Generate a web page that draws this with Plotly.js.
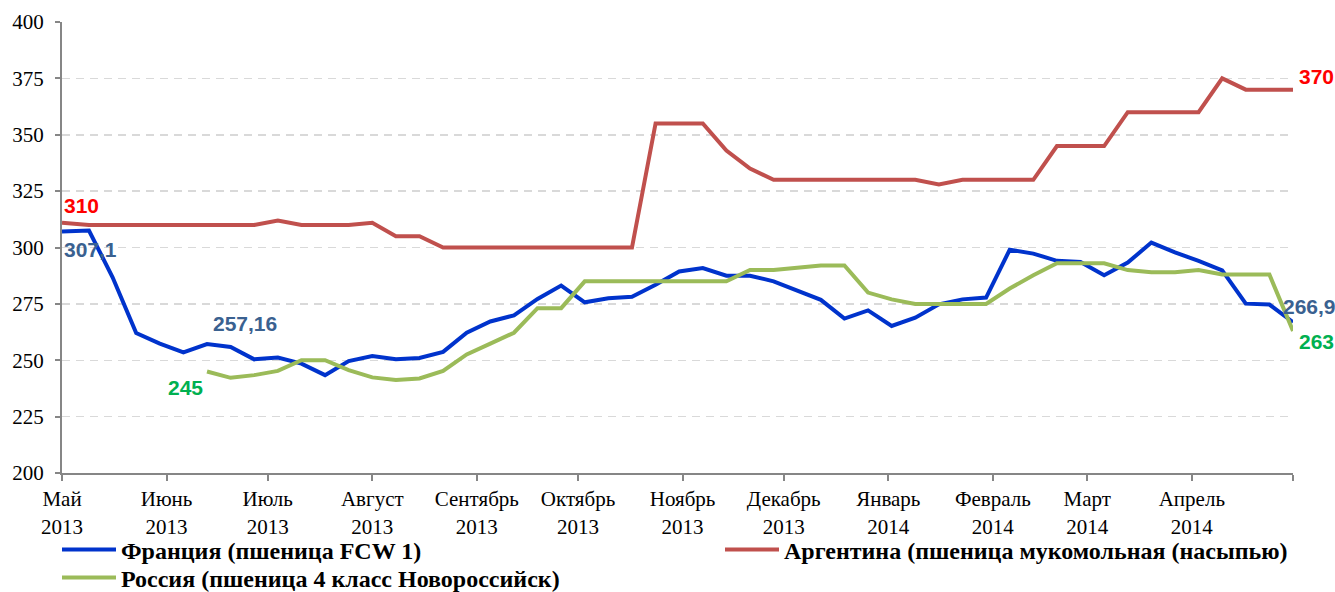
<!DOCTYPE html>
<html>
<head>
<meta charset="utf-8">
<script src="https://cdn.plot.ly/plotly-3.0.1.min.js"></script>
<style>html,body{margin:0;padding:0;background:#fff;}</style>
</head>
<body>
<div id="chart" style="width:1335px;height:592px;"></div>
<script>
// Weekly observation dates
const dates = [
  '2013-05-01','2013-05-09','2013-05-16','2013-05-23','2013-05-30',
  '2013-06-06','2013-06-13','2013-06-20','2013-06-27',
  '2013-07-04','2013-07-11','2013-07-18','2013-07-25',
  '2013-08-01','2013-08-08','2013-08-15','2013-08-22','2013-08-29',
  '2013-09-05','2013-09-12','2013-09-19','2013-09-26',
  '2013-10-03','2013-10-10','2013-10-17','2013-10-24','2013-10-31',
  '2013-11-07','2013-11-14','2013-11-21','2013-11-28',
  '2013-12-05','2013-12-12','2013-12-19','2013-12-26',
  '2014-01-02','2014-01-09','2014-01-16','2014-01-23','2014-01-30',
  '2014-02-06','2014-02-13','2014-02-20','2014-02-27',
  '2014-03-06','2014-03-13','2014-03-20','2014-03-27',
  '2014-04-03','2014-04-10','2014-04-17','2014-04-24','2014-05-01'
];

// Франция (пшеница FCW 1)
const france = [
  307.1, 307.5, 286.8, 262.1, 257.4, 253.5, 257.16, 255.9, 250.4,
  251.2, 248.5, 243.4, 249.6, 251.9, 250.4, 251.0, 253.7, 262.2,
  267.2, 269.9, 277.2, 283.1, 275.7, 277.5, 278.2, 283.5, 289.4,
  290.9, 287.5, 287.5, 285.0, 280.9, 276.8, 268.5, 272.1, 265.2,
  268.9, 274.8, 277.0, 277.8, 299.0, 297.3, 294.1, 293.6, 287.7,
  293.3, 302.2, 297.8, 294.1, 289.9, 275.1, 274.7, 266.9
];

// Аргентина (пшеница мукомольная (насыпью)
const argentina = [
  311, 310, 310, 310, 310, 310, 310, 310, 310,
  312, 310, 310, 310, 311, 305, 305, 300, 300,
  300, 300, 300, 300, 300, 300, 300, 355, 355,
  355, 343, 335, 330, 330, 330, 330, 330, 330,
  330, 328, 330, 330, 330, 330, 345, 345, 345,
  360, 360, 360, 360, 375, 370, 370, 370
];

// Россия (пшеница 4 класс Новороссийск)
const russia = [
  null, null, null, null, null, null, 245, 242.2, 243.4,
  245.3, 250, 250, 245.6, 242.4, 241.2, 241.9, 245.3, 252.6,
  257.4, 262.2, 273.1, 273.1, 285, 285, 285, 285, 285,
  285, 285, 290, 290, 291, 292, 292, 280, 277,
  275, 275, 275, 275, 281.8, 287.7, 293, 293, 293,
  290, 289, 289, 290, 288, 288, 288, 263
];

// Data labels shown on the chart (as printed in the source)
const labelArgStart = 310;

const seriesNames = [
  'Франция (пшеница FCW 1)',
  'Аргентина (пшеница мукомольная (насыпью)',
  'Россия (пшеница 4 класс Новороссийск)'
];

const monthTickVals = [
  '2013-05-01','2013-06-01','2013-07-01','2013-08-01','2013-09-01','2013-10-01',
  '2013-11-01','2013-12-01','2014-01-01','2014-02-01','2014-03-01','2014-04-01','2014-05-01'
];
const monthTickText = [
  'Май<br>2013','Июнь<br>2013','Июль<br>2013','Август<br>2013','Сентябрь<br>2013','Октябрь<br>2013',
  'Ноябрь<br>2013','Декабрь<br>2013','Январь<br>2014','Февраль<br>2014','Март<br>2014','Апрель<br>2014',''
];

const colFrance = '#0033CC', colArg = '#C0504D', colRus = '#9BBB59';
const last = dates.length - 1;
const fmt = v => String(v).replace('.', ',');
const serifFont = '"Liberation Serif", "Times New Roman", serif';
const labelFont = (c) => ({family: '"Liberation Sans", Arial, sans-serif', size: 21, color: c, weight: 'bold'});

const traces = [
  {x: dates, y: france, name: '<b>' + seriesNames[0] + '</b>', type: 'scatter', mode: 'lines',
   line: {color: colFrance, width: 4}, legend: 'legend'},
  {x: dates, y: argentina, name: '<b>' + seriesNames[1] + '</b>', type: 'scatter', mode: 'lines',
   line: {color: colArg, width: 4}, legend: 'legend2'},
  {x: dates, y: russia, name: '<b>' + seriesNames[2] + '</b>', type: 'scatter', mode: 'lines',
   line: {color: colRus, width: 4}, connectgaps: false, legend: 'legend3'}
];

const annotations = [
  {x: dates[0], y: argentina[0], text: '<b>' + fmt(labelArgStart) + '</b>', xanchor: 'left', yanchor: 'middle', yshift: 17, font: labelFont('#FF0000')},
  {x: dates[0], y: france[0], text: '<b>' + fmt(france[0]) + '</b>', xanchor: 'left', yanchor: 'middle', yshift: -18, font: labelFont('#3A6190')},
  {x: dates[6], y: france[6], text: '<b>' + fmt(france[6]) + '</b>', xanchor: 'center', yanchor: 'middle', xshift: 38, yshift: 21, font: labelFont('#3A6190')},
  {x: dates[6], y: russia[6], text: '<b>' + fmt(russia[6]) + '</b>', xanchor: 'right', yanchor: 'middle', xshift: -2, yshift: -16, font: labelFont('#00B050')},
  {x: dates[last], y: argentina[last], text: '<b>' + fmt(argentina[last]) + '</b>', xanchor: 'left', yanchor: 'middle', xshift: 4, yshift: 13, font: labelFont('#FF0000')},
  {x: dates[last], y: france[last], text: '<b>' + fmt(france[last]) + '</b>', xanchor: 'center', yanchor: 'middle', xshift: 16, yshift: 16, font: labelFont('#3A6190')},
  {x: dates[last], y: russia[last], text: '<b>' + fmt(russia[last]) + '</b>', xanchor: 'left', yanchor: 'middle', xshift: 4, yshift: -11, font: labelFont('#00B050')}
].map(a => Object.assign({xref: 'x', yref: 'y', showarrow: false}, a));

const legendFont = {family: serifFont, size: 24, color: '#000', weight: 'bold'};
const legendBase = {
  orientation: 'h', xref: 'container', yref: 'container', xanchor: 'left', yanchor: 'middle',
  font: legendFont, itemwidth: 54, bgcolor: 'rgba(0,0,0,0)', borderwidth: 0
};

const layout = {
  width: 1335, height: 592,
  font: {family: serifFont, color: '#000'},
  margin: {l: 62, r: 42, t: 22, b: 119, pad: 0, autoexpand: false},
  paper_bgcolor: '#fff', plot_bgcolor: '#fff',
  showlegend: true,
  xaxis: {
    type: 'date', range: ['2013-05-01', '2014-05-01'],
    tickmode: 'array', tickvals: monthTickVals, ticktext: monthTickText,
    showgrid: false, zeroline: false,
    showline: true, linecolor: '#868686', linewidth: 2,
    ticks: 'outside', ticklen: 6, tickwidth: 2, tickcolor: '#868686',
    tickfont: {family: serifFont, size: 21, color: '#000'},
    fixedrange: true
  },
  yaxis: {
    range: [200, 400], dtick: 25, tick0: 200,
    showgrid: true, gridcolor: '#D9D9D9', gridwidth: 1.5, griddash: '8px,6px',
    zeroline: false, showline: true, linecolor: '#868686', linewidth: 2,
    ticks: 'outside', ticklen: 5, tickwidth: 2, tickcolor: '#868686',
    ticklabelstandoff: 7,
    tickfont: {family: serifFont, size: 21, color: '#000'},
    fixedrange: true
  },
  legend: Object.assign({}, legendBase, {x: 57 / 1335, y: 1 - 550 / 592}),
  legend2: Object.assign({}, legendBase, {x: 720 / 1335, y: 1 - 550 / 592}),
  legend3: Object.assign({}, legendBase, {x: 57 / 1335, y: 1 - 578 / 592}),
  annotations: annotations
};

Plotly.newPlot('chart', traces, layout, {displayModeBar: false, staticPlot: true});
</script>
</body>
</html>
